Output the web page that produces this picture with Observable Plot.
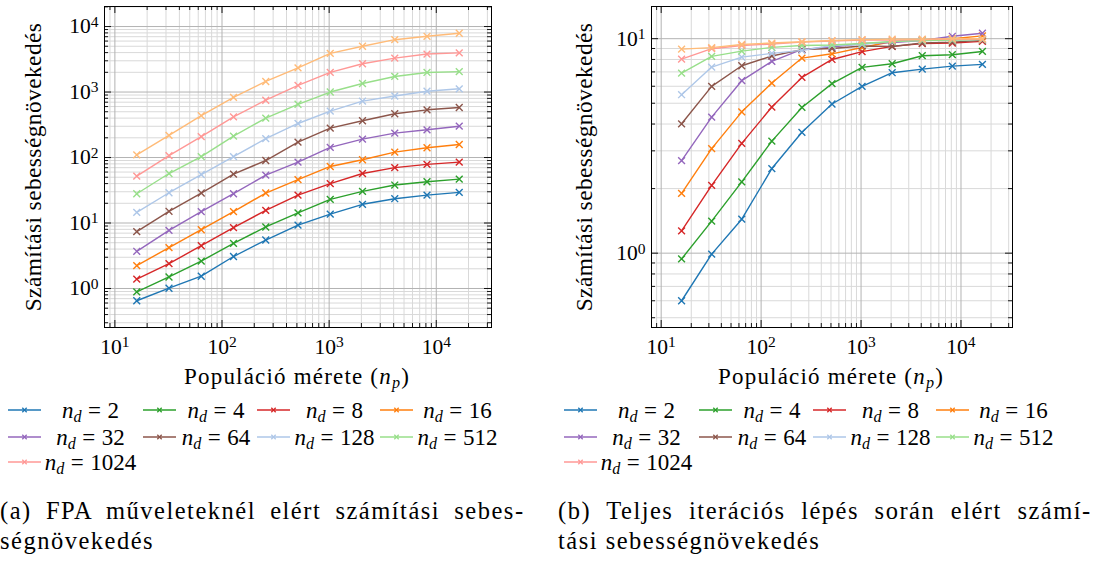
<!DOCTYPE html>
<html><head><meta charset="utf-8">
<script src="https://cdn.jsdelivr.net/npm/d3@7"></script>
<script src="https://cdn.jsdelivr.net/npm/@observablehq/plot@0.6"></script>
<style>
html,body{margin:0;padding:0;background:#fff;}
#root{position:relative;width:1100px;height:568px;overflow:hidden;color:#000;}
.plot{position:absolute;top:0;}
.ylab{position:absolute;white-space:nowrap;line-height:1;transform:translate(-50%,-50%) rotate(-90deg);}
.xlab{position:absolute;white-space:nowrap;line-height:1;transform:translate(-50%,-50%);}
.leg{position:absolute;line-height:1;white-space:nowrap;transform:translate(-50%,-50%);}
.sw{position:absolute;}
.cap{position:absolute;line-height:1;white-space:nowrap;}
sub{font-size:0.7em;vertical-align:-0.3em;line-height:0;}
.eq{margin:0 0.28em;}
</style></head><body><div id="root"></div><script>
// ---------------- data ----------------
const popSizes = [16, 32, 64, 128, 256, 512, 1024, 2048, 4096, 8192, 16384];
const seriesColors = ["#1f77b4","#2ca02c","#d62728","#ff7f0e","#9467bd","#8c564b","#aec7e8","#98df8a","#ff9896","#ffbb78"];
// legend entries as printed in the figure (the last, light-orange line has no entry)
const legendLabels = ["2","4","8","16","32","64","128","512","1024"];
// (a) FPA operations speedup, one array per line
const fpaSpeedup = [
  [0.65, 1.01, 1.54, 3.08, 5.5, 9.3, 13.7, 19.3, 23.5, 26.7, 29.4],
  [0.89, 1.5, 2.62, 4.9, 8.7, 14.3, 23, 30.4, 38, 42.7, 46.8],
  [1.39, 2.4, 4.5, 8.5, 15.6, 26.7, 40, 57, 70, 78.6, 85],
  [2.24, 4.2, 7.9, 14.9, 28.7, 46, 73, 92.5, 121, 141, 158],
  [3.7, 7.7, 14.9, 28, 54, 85, 143, 191, 236, 265, 301],
  [7.4, 15.1, 28.7, 55.8, 90, 172, 281, 364, 466, 535, 580],
  [14.5, 29, 55, 103, 194, 331, 510, 725, 870, 1030, 1120],
  [28, 57, 103, 212, 400, 650, 1000, 1350, 1730, 1990, 2050],
  [52, 107, 208, 417, 750, 1260, 2000, 2700, 3300, 3800, 3960],
  [110, 218, 435, 830, 1450, 2340, 3900, 5000, 6300, 7100, 7900]
];
// (b) full iteration step speedup
const iterSpeedup = [
  [0.60, 0.99, 1.44, 2.48, 3.66, 4.96, 5.99, 6.94, 7.21, 7.45, 7.59],
  [0.94, 1.41, 2.15, 3.33, 4.78, 6.17, 7.35, 7.64, 8.33, 8.42, 8.72],
  [1.27, 2.07, 3.25, 4.80, 6.60, 8.00, 8.70, 9.21, 9.48, 9.54, 9.71],
  [1.90, 3.07, 4.56, 6.21, 8.12, 8.5, 9.1, 9.7, 9.85, 10.0, 10.3],
  [2.70, 4.31, 6.37, 7.84, 8.91, 9.14, 9.5, 9.6, 9.8, 10.26, 10.6],
  [4.01, 5.99, 7.48, 8.30, 8.89, 9.0, 9.25, 9.2, 9.54, 9.64, 9.82],
  [5.48, 7.37, 8.20, 8.54, 8.82, 9.30, 9.40, 9.71, 9.8, 9.85, 9.9],
  [6.91, 8.27, 8.75, 9.11, 9.30, 9.35, 9.5, 9.7, 9.8, 9.85, 9.9],
  [8.03, 8.98, 9.30, 9.44, 9.64, 9.75, 9.85, 9.85, 9.9, 9.95, 9.95],
  [8.94, 9.08, 9.40, 9.54, 9.68, 9.8, 9.9, 9.95, 9.95, 10.0, 10.0]
];
const yTitle = "Számítási sebességnövekedés";
const xTitleHTML = "Populáció mérete (<i>n</i><sub><i>p</i></sub>)";
const captionA = ["(a) FPA műveleteknél elért számítási sebes-", "ségnövekedés"];
const captionB = ["(b) Teljes iterációs lépés során elért számí-", "tási sebességnövekedés"];

// ---------------- helpers ----------------
const root = document.getElementById("root");
const NS = "http://www.w3.org/2000/svg";
const FONT = '"Liberation Serif"';
const setFont = el => el.style.setProperty("font-family", FONT, "important");

function logDomain(values) {
  const [a, b] = d3.extent(values).map(Math.log10);
  const e = (b - a) * 0.1;
  return [10 ** (a - e), 10 ** (b + e)];
}
function logTicks(domain) {
  const lo = Math.floor(Math.log10(domain[0])), hi = Math.ceil(Math.log10(domain[1]));
  const major = [], minor = [];
  for (let k = lo; k <= hi; k++) {
    const p = 10 ** k;
    if (p >= domain[0] && p <= domain[1]) major.push(p);
    for (let m = 2; m <= 9; m++) { const v = m * p; if (v >= domain[0] && v <= domain[1]) minor.push(v); }
  }
  return {major, minor};
}
function supify(svg) {
  setFont(svg);
  svg.querySelectorAll("text").forEach(t => { setFont(t); t.style.fontSize = "21.5px"; });
  svg.querySelectorAll('g[aria-label$="tick label"] text').forEach(t => {
    const m = t.textContent.match(/^(\d+)\^(-?\d+)$/);
    if (!m) return;
    t.textContent = "";
    const a = document.createElementNS(NS, "tspan"); a.textContent = m[1];
    const b = document.createElementNS(NS, "tspan"); b.textContent = m[2];
    b.setAttribute("dy", "-0.42em"); b.style.fontSize = "15.5px";
    setFont(a); setFont(b);
    t.append(a, b);
  });
}

function makePanel(series, opts) {
  const W = opts.width, H = opts.height;
  const mL = opts.marginLeft, mR = opts.marginRight, mT = opts.marginTop, mB = opts.marginBottom;
  const pw = W - mL - mR, ph = H - mT - mB;
  const xd = logDomain(popSizes);
  const yd = logDomain(series.flat());
  const xt = logTicks(xd), yt = logTicks(yd);
  const fmt = d => "10^" + Math.round(Math.log10(d));
  const marks = [
    Plot.ruleX(xt.minor, {stroke: "#d9d9d9", strokeWidth: 1}),
    Plot.ruleY(yt.minor, {stroke: "#d9d9d9", strokeWidth: 1}),
    Plot.ruleX(xt.major, {stroke: "#b3b3b3", strokeWidth: 1}),
    Plot.ruleY(yt.major, {stroke: "#b3b3b3", strokeWidth: 1})
  ];
  series.forEach((vals, k) => {
    const rows = popSizes.map((p, i) => ({p, v: vals[i]}));
    marks.push(Plot.line(rows, {x: "p", y: "v", stroke: seriesColors[k], strokeWidth: 1.4}));
    marks.push(Plot.dot(rows, {x: "p", y: "v", symbol: "times", r: 3.2, stroke: seriesColors[k], strokeWidth: 1.4}));
  });
  const tk = {stroke: "#000", strokeWidth: 0.9};
  marks.push(
    Plot.ruleX(xt.major, {...tk, insetTop: ph - 7}), Plot.ruleX(xt.major, {...tk, insetBottom: ph - 7}),
    Plot.ruleX(xt.minor, {...tk, insetTop: ph - 4}), Plot.ruleX(xt.minor, {...tk, insetBottom: ph - 4}),
    Plot.ruleY(yt.major, {...tk, insetRight: pw - 7}), Plot.ruleY(yt.major, {...tk, insetLeft: pw - 7}),
    Plot.ruleY(yt.minor, {...tk, insetRight: pw - 4}), Plot.ruleY(yt.minor, {...tk, insetLeft: pw - 4}),
    Plot.frame({stroke: "#000", strokeWidth: 1}),
    Plot.axisX({ticks: xt.major, tickFormat: fmt, tickSize: 0, tickPadding: 11, anchor: "bottom", label: null}),
    Plot.axisY({ticks: yt.major, tickFormat: fmt, tickSize: 0, tickPadding: 6, anchor: "left", label: null})
  );
  const svg = Plot.plot({
    width: W, height: H, marginLeft: mL, marginRight: mR, marginTop: mT, marginBottom: mB,
    x: {type: "log", domain: xd},
    y: {type: "log", domain: yd},
    style: {fontSize: "21.5px", color: "#000", background: "transparent", overflow: "visible"},
    marks
  });
  supify(svg);
  svg.classList.add("plot");
  svg.style.left = opts.left + "px";
  root.appendChild(svg);
}

function addDiv(cls, html, x, y, size) {
  const d = document.createElement("div");
  d.className = cls; d.innerHTML = html;
  d.style.left = x + "px"; d.style.top = y + "px";
  d.style.fontSize = size + "px";
  setFont(d);
  d.querySelectorAll("*").forEach(setFont);
  root.appendChild(d);
  return d;
}
// stretch a one-line text toward the width it has in the figure (Computer Modern is wider)
function fitWidth(el, target) {
  el.style.letterSpacing = "0px";
  const w = el.offsetWidth, n = el.textContent.length;
  const ls = Math.max(0, Math.min(1.5, (target - w) / n));
  el.style.letterSpacing = ls + "px";
  return ls;
}
// justify a caption line: letter-spacing first, then spread the rest over the spaces
function justify(el, target) {
  const ls = fitWidth(el, target);
  const spaces = (el.textContent.match(/ /g) || []).length;
  const rest = target - el.offsetWidth;
  const ws = spaces ? Math.max(0, rest / spaces) : 0;
  el.style.wordSpacing = ws + "px";
  return ls;
}
function swatch(color, x, y) {
  const s = document.createElementNS(NS, "svg");
  s.setAttribute("width", 34); s.setAttribute("height", 12);
  s.setAttribute("class", "sw");
  s.style.left = x + "px"; s.style.top = (y - 6) + "px";
  s.innerHTML = `<line x1="0" y1="6" x2="33" y2="6" stroke="${color}" stroke-width="1.4"/>` +
    `<path d="M14.3,3.8L18.7,8.2M18.7,3.8L14.3,8.2" stroke="${color}" stroke-width="1.3" fill="none"/>`;
  root.appendChild(s);
}
function legend(dx) {
  const swX = [8, 143, 257, 380], txX = [90.5, 216, 334.5, 457.5], rowY = [410, 436.5, 462];
  legendLabels.forEach((lab, i) => {
    const r = Math.floor(i / 4), c = i % 4;
    swatch(seriesColors[i], swX[c] + dx, rowY[r]);
    addDiv("leg", `<i>n</i><sub><i>d</i></sub><span class="eq">=</span>${lab}`, txX[c] + dx, rowY[r], 23);
  });
}
function caption(lines, x, w) {
  const a = addDiv("cap", lines[0], x, 499, 24.5);
  const ls = justify(a, w);
  const b = addDiv("cap", lines[1], x, 529, 24.5);
  b.style.letterSpacing = ls + "px";
}

// ---------------- panels ----------------
makePanel(fpaSpeedup, {left: 0, width: 500, height: 390, marginLeft: 104, marginRight: 9, marginTop: 6, marginBottom: 63});
makePanel(iterSpeedup, {left: 550, width: 550, height: 390, marginLeft: 101, marginRight: 88, marginTop: 6, marginBottom: 63});

fitWidth(addDiv("ylab", yTitle, 34, 167, 23.5), 289);
fitWidth(addDiv("ylab", yTitle, 585, 167, 23.5), 289);
fitWidth(addDiv("xlab", xTitleHTML, 297, 376, 23), 226);
fitWidth(addDiv("xlab", xTitleHTML, 831, 376, 23), 226);
legend(0);
legend(556);
caption(captionA, 0, 525);
caption(captionB, 558, 534);
</script></body></html>
